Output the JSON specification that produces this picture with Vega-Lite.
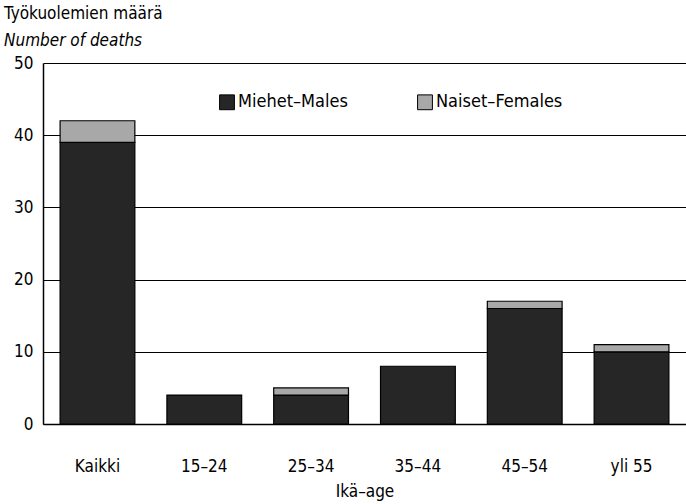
{
  "$schema": "https://vega.github.io/schema/vega-lite/v6.json",
  "width": 643,
  "height": 361,
  "autosize": {"type": "none"},
  "padding": {"left": 43, "top": 63, "right": 0, "bottom": 80},
  "background": "white",
  "title": {
    "text": "Työkuolemien määrä",
    "subtitle": "Number of deaths",
    "anchor": "start",
    "frame": "group",
    "dx": -39,
    "offset": 4,
    "font": "DejaVu Sans Condensed, Liberation Sans Narrow, Roboto, sans-serif",
    "fontSize": 17,
    "fontWeight": "normal",
    "color": "black",
    "subtitleFont": "DejaVu Sans Condensed, Liberation Sans Narrow, Roboto, sans-serif",
    "subtitleFontSize": 17,
    "subtitleFontStyle": "italic",
    "subtitleColor": "black",
    "subtitlePadding": 10
  },
  "data": {
    "values": [
      {"age": "Kaikki", "sex": "Miehet–Males", "deaths": 39},
      {"age": "Kaikki", "sex": "Naiset–Females", "deaths": 3},
      {"age": "15–24", "sex": "Miehet–Males", "deaths": 4},
      {"age": "25–34", "sex": "Miehet–Males", "deaths": 4},
      {"age": "25–34", "sex": "Naiset–Females", "deaths": 1},
      {"age": "35–44", "sex": "Miehet–Males", "deaths": 8},
      {"age": "45–54", "sex": "Miehet–Males", "deaths": 16},
      {"age": "45–54", "sex": "Naiset–Females", "deaths": 1},
      {"age": "yli 55", "sex": "Miehet–Males", "deaths": 10},
      {"age": "yli 55", "sex": "Naiset–Females", "deaths": 1}
    ]
  },
  "mark": {"type": "bar", "stroke": "black", "strokeWidth": 1.2},
  "encoding": {
    "x": {
      "field": "age",
      "type": "nominal",
      "sort": ["Kaikki", "15–24", "25–34", "35–44", "45–54", "yli 55"],
      "scale": {"paddingInner": 0.3, "paddingOuter": 0.16},
      "axis": {
        "title": "Ikä–age",
        "labelAngle": 0,
        "ticks": false,
        "domainColor": "black",
        "domainWidth": 1.5,
        "labelFont": "DejaVu Sans Condensed, Liberation Sans Narrow, Roboto, sans-serif",
        "labelFontSize": 17,
        "labelColor": "black",
        "labelPadding": 34,
        "titleFont": "DejaVu Sans Condensed, Liberation Sans Narrow, Roboto, sans-serif",
        "titleFontSize": 17,
        "titleFontWeight": "normal",
        "titleColor": "black",
        "titlePadding": 9
      }
    },
    "y": {
      "field": "deaths",
      "type": "quantitative",
      "stack": "zero",
      "scale": {"domain": [0, 50]},
      "axis": {
        "title": null,
        "values": [0, 10, 20, 30, 40, 50],
        "grid": true,
        "gridColor": "black",
        "gridOpacity": 1,
        "gridWidth": 1.2,
        "ticks": false,
        "domainColor": "black",
        "domainWidth": 1.5,
        "labelFont": "DejaVu Sans Condensed, Liberation Sans Narrow, Roboto, sans-serif",
        "labelFontSize": 17,
        "labelColor": "black",
        "labelPadding": 10
      }
    },
    "order": {"field": "sex", "type": "nominal", "sort": "ascending"},
    "color": {
      "field": "sex",
      "type": "nominal",
      "scale": {"domain": ["Miehet–Males", "Naiset–Females"], "range": ["#262626", "#a8a8a8"]},
      "legend": {
        "title": null,
        "orient": "none",
        "legendX": 175,
        "legendY": 30,
        "direction": "horizontal",
        "symbolType": "square",
        "symbolSize": 220,
        "symbolStrokeColor": "black",
        "symbolStrokeWidth": 1,
        "labelFont": "DejaVu Sans Condensed, Liberation Sans Narrow, Roboto, sans-serif",
        "labelFontSize": 18,
        "labelColor": "black",
        "labelOffset": 2,
        "columnPadding": 67
      }
    }
  },
  "config": {
    "view": {"stroke": null}
  }
}
